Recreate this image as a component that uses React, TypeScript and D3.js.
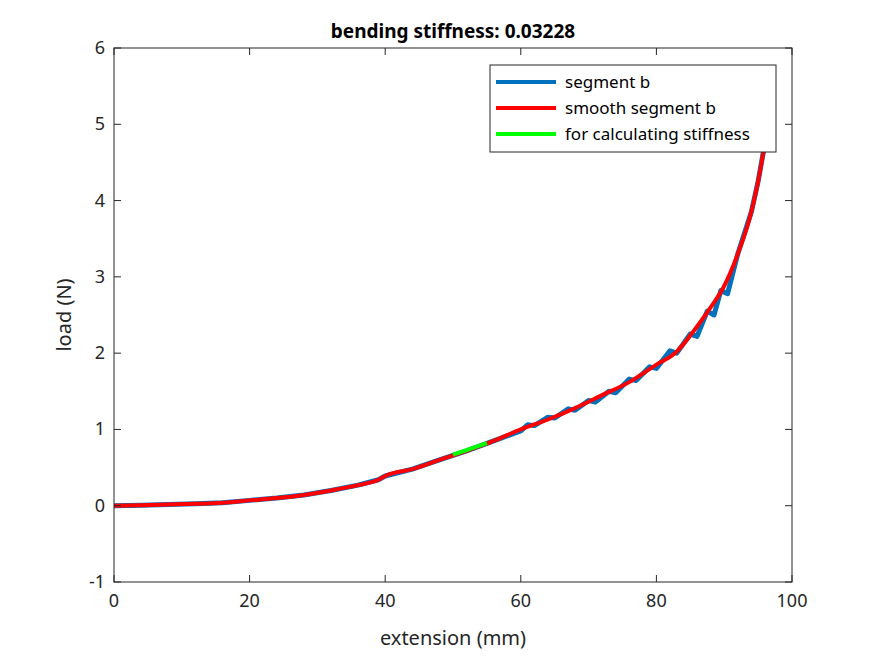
import * as d3 from 'd3';

// smoothed curve (extension mm, load N)
const smoothX = [0, 4, 8, 12, 16, 20, 24, 28, 32, 36, 39, 40, 44, 48, 52, 56, 60, 64, 68, 72, 76, 80, 83, 84, 86, 88, 90, 92, 94, 95, 96];
const smoothY = [0, 0.005, 0.015, 0.025, 0.04, 0.07, 0.1, 0.14, 0.2, 0.27, 0.34, 0.39, 0.48, 0.6, 0.72, 0.85, 1.0, 1.13, 1.28, 1.45, 1.62, 1.85, 2.02, 2.12, 2.35, 2.6, 2.88, 3.3, 3.85, 4.25, 4.75];

// raw segment, with the visible wiggles
const rawX = [0, 4, 8, 12, 16, 20, 24, 28, 32, 36, 39, 40, 44, 48, 52, 56, 60, 61, 62, 64, 65, 67, 68, 70, 71, 73, 74, 76, 77, 79, 80, 82, 83, 85, 86, 87.5, 88.5, 89.5, 90.5, 92, 94, 95, 96];
const rawY = [0, 0.005, 0.015, 0.025, 0.04, 0.07, 0.1, 0.14, 0.2, 0.27, 0.34, 0.39, 0.48, 0.6, 0.72, 0.85, 0.98, 1.06, 1.05, 1.16, 1.15, 1.27, 1.25, 1.38, 1.36, 1.5, 1.48, 1.66, 1.64, 1.82, 1.8, 2.03, 2.0, 2.25, 2.22, 2.55, 2.5, 2.82, 2.78, 3.3, 3.85, 4.25, 4.75];

// fit window
const fitX = [50, 52, 54, 55];
const fitY = [0.67, 0.73, 0.79, 0.82];

const xTicks = [0, 20, 40, 60, 80, 100];
const yTicks = [-1, 0, 1, 2, 3, 4, 5, 6];

const W = 875, H = 656;
const m = { left: 114, right: 792, top: 48, bottom: 582 };
const font = '"Noto Sans", sans-serif';

export default function App() {
  const x = d3.scaleLinear().domain([0, 100]).range([m.left, m.right]);
  const y = d3.scaleLinear().domain([-1, 6]).range([m.bottom, m.top]);
  const line = (xs: number[], ys: number[], curve = d3.curveLinear) =>
    d3.line<number>().x((d) => x(d)).y((_, i) => y(ys[i])).curve(curve)(xs) ?? '';
  const legend = [
    { label: 'segment b', color: '#0072BD' },
    { label: 'smooth segment b', color: '#FF0000' },
    { label: 'for calculating stiffness', color: '#00FF00' },
  ];
  return (
    <svg width={W} height={H} style={{ position: 'absolute', left: 0, top: 0, background: '#fff' }} fontFamily={font}>
      <rect x={0} y={0} width={W} height={H} fill="#fff" />
      <clipPath id="c"><rect x={m.left} y={m.top} width={m.right - m.left} height={m.bottom - m.top} /></clipPath>
      <g clipPath="url(#c)">
        <path d={line(rawX, rawY)} fill="none" stroke="#0072BD" strokeWidth={5} strokeLinejoin="round" />
        <path d={line(smoothX, smoothY, d3.curveMonotoneX)} fill="none" stroke="#FF0000" strokeWidth={4} />
        <path d={line(fitX, fitY)} fill="none" stroke="#00FF00" strokeWidth={4} />
      </g>
      <rect x={m.left} y={m.top} width={m.right - m.left} height={m.bottom - m.top} fill="none" stroke="#262626" strokeWidth={1} />
      {xTicks.map((t) => (
        <g key={'x' + t}>
          <line x1={x(t)} x2={x(t)} y1={m.bottom} y2={m.bottom - 7} stroke="#262626" />
          <line x1={x(t)} x2={x(t)} y1={m.top} y2={m.top + 7} stroke="#262626" />
          <text x={x(t)} y={m.bottom + 25} textAnchor="middle" fontSize={18} fill="#262626">{t}</text>
        </g>
      ))}
      {yTicks.map((t) => (
        <g key={'y' + t}>
          <line x1={m.left} x2={m.left + 7} y1={y(t)} y2={y(t)} stroke="#262626" />
          <line x1={m.right} x2={m.right - 7} y1={y(t)} y2={y(t)} stroke="#262626" />
          <text x={m.left - 9} y={y(t) + 6} textAnchor="end" fontSize={18} fill="#262626">{t}</text>
        </g>
      ))}
      <text x={(m.left + m.right) / 2} y={645} textAnchor="middle" fontSize={20} fill="#262626">extension (mm)</text>
      <text transform={`translate(71,${(m.top + m.bottom) / 2}) rotate(-90)`} textAnchor="middle" fontSize={20} fill="#262626">load (N)</text>
      <text x={(m.left + m.right) / 2} y={38} textAnchor="middle" fontSize={19} fontWeight="bold" fill="#000">bending stiffness: 0.03228</text>
      <rect x={490} y={65} width={286} height={87} fill="#fff" stroke="#262626" />
      {legend.map((l, i) => (
        <g key={l.label}>
          <line x1={496} x2={556} y1={82 + i * 26} y2={82 + i * 26} stroke={l.color} strokeWidth={4} />
          <text x={565} y={88 + i * 26} fontSize={17} fill="#000">{l.label}</text>
        </g>
      ))}
    </svg>
  );
}
